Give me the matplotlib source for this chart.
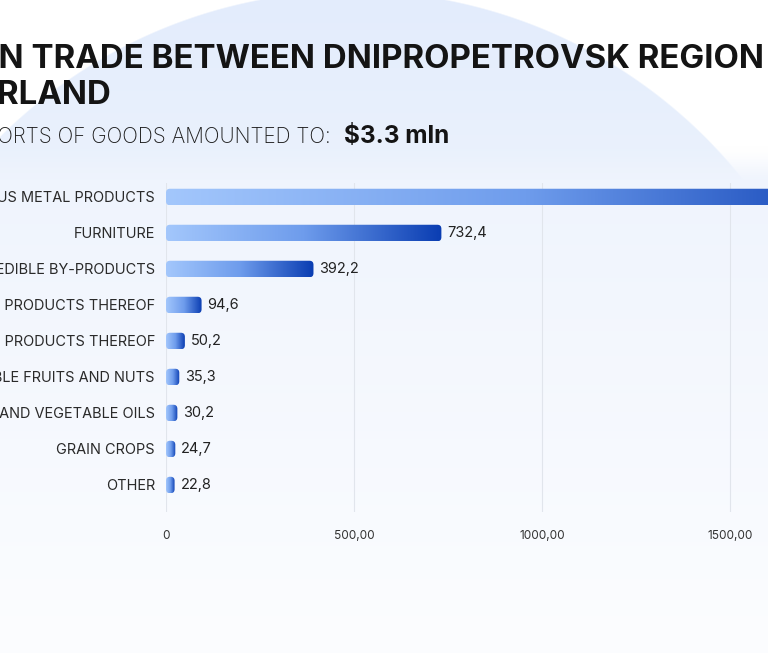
import numpy as np
import matplotlib
matplotlib.use("Agg")
import matplotlib.pyplot as plt
from matplotlib.patches import FancyBboxPatch
from matplotlib.colors import LinearSegmentedColormap, to_rgb
from matplotlib.transforms import offset_copy

# ---------------- data ----------------
categories = [
    "FERROUS METAL PRODUCTS",
    "FURNITURE",
    "MEAT AND EDIBLE BY-PRODUCTS",
    "WOOD AND PRODUCTS THEREOF",
    "PLASTICS AND PRODUCTS THEREOF",
    "EDIBLE FRUITS AND NUTS",
    "ANIMAL AND VEGETABLE OILS",
    "GRAIN CROPS",
    "OTHER",
]
values = [1917.6, 732.4, 392.2, 94.6, 50.2, 35.3, 30.2, 24.7, 22.8]
xticks = [0, 500, 1000, 1500]
xtick_labels = ["0", "500,00", "1000,00", "1500,00"]
title_line1 = "FOREIGN TRADE BETWEEN DNIPROPETROVSK REGION AND"
title_line2 = "SWITZERLAND"
subtitle = "EXPORTS OF GOODS AMOUNTED TO:"
subtitle_value = "$3.3 mln"

W, H = 768, 653
DPI = 100
fig = plt.figure(figsize=(W / DPI, H / DPI), dpi=DPI)
renderer = fig.canvas.get_renderer()

# ---------------- background ----------------
yy, xx = np.mgrid[0:H, 0:W].astype(float)
bg = np.ones((H, W, 3))
circ_top = np.array(to_rgb("#e3ecfc"))
circ_bot = np.array(to_rgb("#ebf2fd"))
cf = np.clip(yy / 180, 0, 1)[..., None]
circ_col = circ_top * (1 - cf) + circ_bot * cf
d = np.sqrt((xx - 352) ** 2 + (yy - 490) ** 2)
m = np.clip((500 - d) / 1.5, 0, 1)[..., None]
bg = bg * (1 - m) + circ_col * m
top_c = np.array(to_rgb("#eff4fd"))
bot_c = np.array(to_rgb("#fcfdff"))
f = np.clip((yy - 170) / (H - 170), 0, 1)[..., None]
panel = top_c * (1 - f) + bot_c * f
t = np.clip((yy - 145) / 40, 0, 1)
t = (t * t * (3 - 2 * t))[..., None]
bg = bg * (1 - t) + panel * t

bg_ax = fig.add_axes([0, 0, 1, 1])
bg_ax.imshow(bg, extent=(0, W, H, 0), aspect="auto", interpolation="bilinear")
bg_ax.set_xlim(0, W)
bg_ax.set_ylim(H, 0)
bg_ax.axis("off")


def text_w(s, size, **kw):
    tt = fig.text(0, 0, s, fontsize=size, **kw)
    w = tt.get_window_extent(renderer=renderer).width
    tt.remove()
    return w


def fit(s, width, **kw):
    return 10 * width / text_w(s, 10, **kw)


# ---------------- titles ----------------
tkw = dict(family="Inter", weight="bold")
vis1 = "N TRADE BETWEEN DNIPROPETROVSK REGION"
fs_t = fit(vis1, 763, **tkw)
off1 = text_w("FOREIGN TRADE BETWEEN DNIPROPETROVSK REGION", fs_t, **tkw) - text_w(vis1, fs_t, **tkw)
bg_ax.text(-1 - off1, 68, title_line1, fontsize=fs_t, color="#141414", va="baseline", ha="left", **tkw)
off2 = text_w(title_line2, fs_t, **tkw) - text_w("RLAND", fs_t, **tkw)
bg_ax.text(-2 - off2, 104, title_line2, fontsize=fs_t, color="#141414", va="baseline", ha="left", **tkw)

skw = dict(family="Inter", weight="light")
vis_s = "ORTS OF GOODS AMOUNTED TO:"
fs_s = fit(vis_s, 336, **skw)
off_s = text_w(subtitle, fs_s, **skw) - text_w(vis_s, fs_s, **skw)
bg_ax.text(-3 - off_s, 143, subtitle, fontsize=fs_s, color="#1e1e1e", va="baseline", ha="left", **skw)
fs_v = fit(subtitle_value, 105, **tkw)
bg_ax.text(344, 143, subtitle_value, fontsize=fs_v, color="#141414", va="baseline", ha="left", **tkw)

# ---------------- chart ----------------
px_per_unit = 188 / 500
x0_px, top_px, bot_px = 166, 183, 512
row_px = 36
ax = fig.add_axes([x0_px / W, 1 - bot_px / H, 1 - x0_px / W, (bot_px - top_px) / H])
ax.patch.set_alpha(0)
xmax = (W - x0_px) / px_per_unit
ylim = ((bot_px - 197) / row_px, -(197 - top_px) / row_px)

cmap = LinearSegmentedColormap.from_list("bar", ["#a3c7fc", "#6e9cec", "#0a3db2"])
grad = np.linspace(0, 1, 256).reshape(1, -1)
bar_h = 16.5 / row_px
rx = 4 / px_per_unit
ry = 4 / row_px
for i, v in enumerate(values):
    patch = FancyBboxPatch((0, i - bar_h / 2), v, bar_h,
                           boxstyle=f"round,pad=0,rounding_size={rx}",
                           mutation_aspect=ry / rx, facecolor="none",
                           edgecolor="none", transform=ax.transData)
    ax.add_patch(patch)
    im = ax.imshow(grad, cmap=cmap, extent=(0, v, i + bar_h / 2, i - bar_h / 2),
                   aspect="auto", interpolation="bilinear", zorder=2)
    im.set_clip_path(patch)

lkw = dict(family="Inter")
fs_l = fit("FURNITURE", 82, **lkw)
lab_tr = offset_copy(ax.transData, fig=fig, x=6, y=0, units="dots")
for i, v in enumerate(values):
    ax.text(v, i, f"{v:.1f}".replace(".", ","), transform=lab_tr, fontsize=fs_l,
            color="#222222", va="center", ha="left", zorder=3, **lkw)

ax.set_xlim(0, xmax)
ax.set_ylim(*ylim)
ax.set_yticks(range(len(categories)))
ax.set_yticklabels(categories, fontsize=fs_l, color="#2a2a2a", **lkw)
ax.set_xticks(xticks)
fs_x = fit("500,00", 41, family="Inter")
ax.set_xticklabels(xtick_labels, fontsize=fs_x, color="#333333", family="Inter")
ax.tick_params(axis="y", length=0, pad=8)
ax.tick_params(axis="x", length=0, pad=13)
ax.xaxis.grid(True, color="#e1e5ec", linewidth=0.8)
ax.set_axisbelow(True)
for s in ax.spines.values():
    s.set_visible(False)

fig.savefig("out.png", dpi=DPI)
